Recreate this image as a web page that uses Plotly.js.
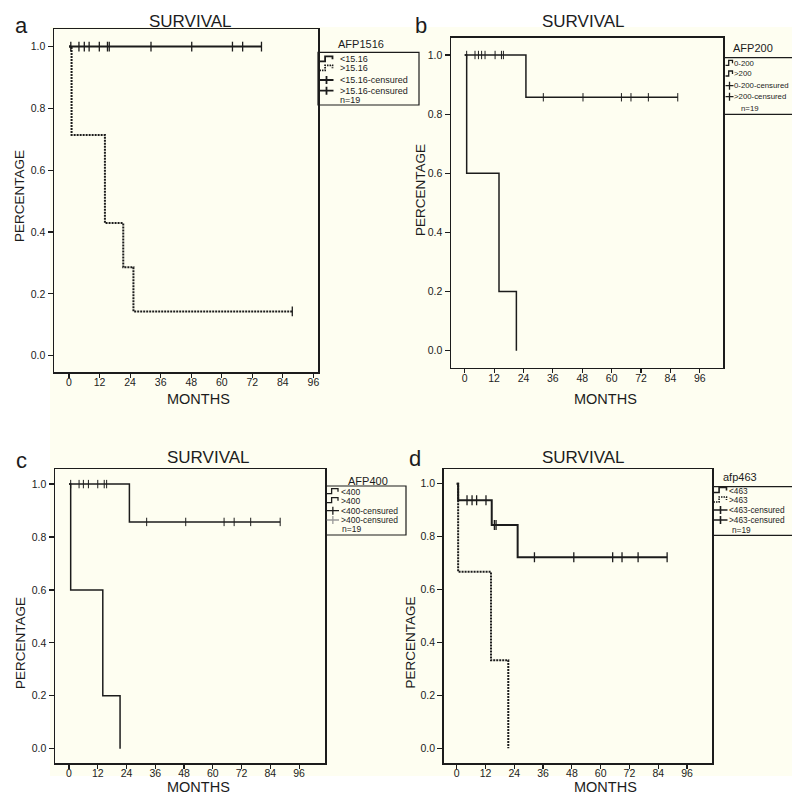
<!DOCTYPE html>
<html>
<head>
<meta charset="utf-8">
<script src="https://cdn.plot.ly/plotly-3.0.1.min.js"></script>
<style>html,body{margin:0;padding:0;background:#fff}#chart{width:792px;height:795px}</style>
</head>
<body>
<div id="chart"></div>
<script>
// ---------------- DATA ----------------
const monthTicks = [0, 12, 24, 36, 48, 60, 72, 84, 96];
const pctTicks = [0, 0.2, 0.4, 0.6, 0.8, 1.0];
const panelLetters = ['a', 'b', 'c', 'd'];
const panelTitle = 'SURVIVAL';
const xTitle = 'MONTHS';
const yTitle = 'PERCENTAGE';

// Panel a : AFP1516
const aLowTime = [0, 75.6];
const aLowSurv = [1, 1];
const aLowCensTime = [0.7, 3.9, 6.0, 7.9, 11.9, 15.1, 15.8, 32.2, 48.2, 64.2, 68.2, 75.6];
const aLowCensSurv = [1, 1, 1, 1, 1, 1, 1, 1, 1, 1, 1, 1];
const aHighTime = [0, 1.0, 14.1, 21.3, 25.3, 87.7];
const aHighSurv = [1, 0.714, 0.429, 0.286, 0.143, 0.143];
const aHighCensTime = [87.7];
const aHighCensSurv = [0.143];

// Panel b : AFP200
const bLowTime = [0, 25.0, 87.0];
const bLowSurv = [1, 0.857, 0.857];
const bLowCensTime = [0.8, 4.2, 5.6, 6.9, 8.3, 12.4, 15.0, 15.8, 32.1, 48.3, 64.0, 67.9, 75.0, 87.0];
const bLowCensSurv = [1, 1, 1, 1, 1, 1, 1, 1, 0.857, 0.857, 0.857, 0.857, 0.857, 0.857];
const bHighTime = [0, 0.8, 14.0, 21.1];
const bHighSurv = [1, 0.6, 0.2, 0];

// Panel c : AFP400
const cLowTime = [0, 25.2, 88.1];
const cLowSurv = [1, 0.857, 0.857];
const cLowCensTime = [0.7, 4.2, 6.0, 8.1, 12.0, 14.7, 15.7, 32.4, 48.7, 64.7, 68.9, 75.8, 88.1];
const cLowCensSurv = [1, 1, 1, 1, 1, 1, 1, 0.857, 0.857, 0.857, 0.857, 0.857, 0.857];
const cHighTime = [0, 0.7, 14.1, 21.3];
const cHighSurv = [1, 0.6, 0.2, 0];

// Panel d : afp463
const dLowTime = [0, 0.6, 14.6, 25.4, 87.7];
const dLowSurv = [1, 0.9375, 0.844, 0.722, 0.722];
const dLowCensTime = [4.3, 6.4, 8.3, 12.2, 15.7, 16.4, 32.4, 48.8, 65.0, 68.9, 75.6, 87.7];
const dLowCensSurv = [0.9375, 0.9375, 0.9375, 0.9375, 0.844, 0.844, 0.722, 0.722, 0.722, 0.722, 0.722, 0.722];
const dHighTime = [0, 0.6, 14.3, 21.5];
const dHighSurv = [1, 0.667, 0.333, 0];

// Legend texts
const legendTitles = ['AFP1516', 'AFP200', 'AFP400', 'afp463'];
const legendA = ['<15.16', '>15.16', '<15.16-censured', '>15.16-censured', 'n=19'];
const legendB = ['0-200', '>200', '0-200-censured', '>200-censured', 'n=19'];
const legendC = ['<400', '>400', '<400-censured', '>400-censured', 'n=19'];
const legendD = ['<463', '>463', '<463-censured', '>463-censured', 'n=19'];

// ---------------- LAYOUT ----------------
const W = 792, H = 795;
const P = x => x / W;
const Q = y => 1 - y / H;
const INK = '#1c1c1c';
const CREAM = '#fefef1';
const tickFont = {family: 'Liberation Sans Narrow, Arial Narrow, Liberation Sans, Arial, sans-serif', size: 10.5, color: INK};
const txtFam = 'Liberation Sans, Arial, Helvetica, sans-serif';

function stepTrace(t, s, ax, width, dash) {
  return {x: t, y: s, xaxis: 'x' + ax, yaxis: 'y' + ax, type: 'scatter', mode: 'lines',
    line: {shape: 'hv', color: INK, width: width, dash: dash || 'solid'}, showlegend: false, hoverinfo: 'skip'};
}
function censTrace(t, s, ax, size, lw) {
  return {x: t, y: s, xaxis: 'x' + ax, yaxis: 'y' + ax, type: 'scatter', mode: 'markers',
    marker: {symbol: 'line-ns', size: size, color: INK, line: {color: INK, width: lw}}, showlegend: false, hoverinfo: 'skip'};
}
const DOT = '2px,1px';
const traces = [
  stepTrace(aLowTime, aLowSurv, '', 2),
  stepTrace(aHighTime, aHighSurv, '', 2, DOT),
  censTrace(aLowCensTime, aLowCensSurv, '', 7, 1.3),
  censTrace(aHighCensTime, aHighCensSurv, '', 7, 1.3),
  stepTrace(bLowTime, bLowSurv, '2', 1.5),
  stepTrace(bHighTime, bHighSurv, '2', 1.5),
  censTrace(bLowCensTime, bLowCensSurv, '2', 6, 1),
  stepTrace(cLowTime, cLowSurv, '3', 1.5),
  stepTrace(cHighTime, cHighSurv, '3', 1.5),
  censTrace(cLowCensTime, cLowCensSurv, '3', 6, 1),
  stepTrace(dLowTime, dLowSurv, '4', 2),
  stepTrace(dHighTime, dHighSurv, '4', 2, DOT),
  censTrace(dLowCensTime, dLowCensSurv, '4', 7, 1.3)
];

// pixel boxes for the 4 plot areas [left, top, right, bottom] and axis ranges
const boxes = [
  {l: 54, t: 29, r: 318, b: 372, xr: [-5.9, 97.8], yr: [-0.053, 1.057]},
  {l: 451, t: 37.7, r: 723.3, b: 367.7, xr: [-5.6, 105.6], yr: [-0.0575, 1.0585]},
  {l: 55, t: 469, r: 325, b: 763.3, xr: [-5.84, 106.8], yr: [-0.055, 1.057]},
  {l: 443.7, t: 469, r: 712, b: 763.3, xr: [-5.42, 106.4], yr: [-0.0567, 1.0556]}
];

const layout = {
  width: W, height: H,
  margin: {l: 0, r: 0, t: 0, b: 0},
  paper_bgcolor: '#ffffff',
  plot_bgcolor: CREAM,
  showlegend: false,
  annotations: [],
  shapes: []
};

boxes.forEach((bx, i) => {
  const sfx = i === 0 ? '' : String(i + 1);
  layout['xaxis' + sfx] = {
    domain: [P(bx.l), P(bx.r)], anchor: 'y' + sfx, range: bx.xr,
    tickmode: 'array', tickvals: monthTicks, ticktext: monthTicks.map(String),
    ticks: 'outside', ticklen: 4, tickwidth: 1.2, tickcolor: INK, ticklabelstandoff: -4,
    showline: true, mirror: true, linecolor: INK, linewidth: 1.5,
    showgrid: false, zeroline: false, tickfont: tickFont, fixedrange: true
  };
  layout['yaxis' + sfx] = {
    domain: [Q(bx.b), Q(bx.t)], anchor: 'x' + sfx, range: bx.yr,
    tickmode: 'array', tickvals: pctTicks, ticktext: pctTicks.map(v => v.toFixed(1)),
    ticks: 'outside', ticklen: 5, tickwidth: 1.2, tickcolor: INK,
    showline: true, mirror: true, linecolor: INK, linewidth: 1.5,
    showgrid: false, zeroline: false, tickfont: tickFont, fixedrange: true
  };
});

// cream background area (below the plots)
layout.shapes.push({type: 'rect', xref: 'paper', yref: 'paper', layer: 'below',
  x0: P(50), x1: P(792), y0: Q(776), y1: Q(27), fillcolor: CREAM, line: {width: 0}});

function ann(text, x, y, size, extra) {
  layout.annotations.push(Object.assign({
    text: text, xref: 'paper', yref: 'paper', x: P(x), y: Q(y), showarrow: false,
    xanchor: 'center', yanchor: 'middle', font: {family: txtFam, size: size, color: INK}
  }, extra || {}));
}

// titles, axis titles, letters
const titlePos = [[190, 22], [583.7, 22], [208.5, 457.5], [583.7, 457.5]];
const monthsPos = [[198, 399], [605, 399], [198, 787], [605.5, 787]];
const pctPos = [[20, 196], [421, 190], [20, 643], [409.5, 643]];
const letterPos = [[21, 26], [421, 26], [21, 460], [415, 458]];
for (let i = 0; i < 4; i++) {
  ann(panelTitle, titlePos[i][0], titlePos[i][1], 17);
  ann(xTitle, monthsPos[i][0], monthsPos[i][1], 14.5, {borderpad: 0});
  ann(yTitle, pctPos[i][0], pctPos[i][1], 13.5, {textangle: -90});
  ann(panelLetters[i], letterPos[i][0], letterPos[i][1], 22);
}

// ---------- legends ----------
function pathPx(pts) {
  return pts.map((p, k) => (k === 0 ? 'M' : 'L') + P(p[0]).toFixed(5) + ',' + Q(p[1]).toFixed(5)).join(' ');
}
function addLegend(cfg, labels, title) {
  layout.shapes.push({type: 'rect', xref: 'paper', yref: 'paper',
    x0: P(cfg.box[0]), y0: Q(cfg.box[1]), x1: P(cfg.box[2]), y1: Q(cfg.box[3]),
    line: {color: INK, width: 1.2}, fillcolor: 'rgba(0,0,0,0)'});
  ann(title, cfg.title[0], cfg.title[1], 11);
  labels.forEach((lab, k) => {
    const y = cfg.ys[k];
    const x0 = cfg.g[0], x1 = cfg.g[1];
    const kind = cfg.kinds[k];
    if (kind === 'step' || kind === 'stepdot') {
      const xm = x0 + (x1 - x0) * 0.4;
      layout.shapes.push({type: 'path', xref: 'paper', yref: 'paper',
        path: pathPx([[x0, y + 2], [xm, y + 2], [xm, y - 3], [x1 - 1, y - 3], [x1 - 1, y]]),
        line: {color: INK, width: cfg.lw, dash: kind === 'stepdot' ? '1.5px,1px' : 'solid'}});
    } else if (kind === 'cross' || kind === 'crossgrey') {
      const col = kind === 'crossgrey' ? '#9a9a9a' : INK;
      const xm = (x0 + x1) / 2;
      layout.shapes.push({type: 'path', xref: 'paper', yref: 'paper',
        path: pathPx([[x0, y], [x1, y]]) + ' ' + pathPx([[xm, y - 4], [xm, y + 4]]),
        line: {color: col, width: cfg.lw}});
    }
    const tx = (kind === 'none' && cfg.nx) ? cfg.nx : cfg.tx;
    ann(lab, tx, y, cfg.fs, {xanchor: 'left', borderpad: 0});
  });
}
addLegend({box: [318, 52.3, 419, 105], title: [360.7, 44.5], tx: 339, nx: 339, ys: [59.3, 68.3, 80, 90.7, 100.3],
  g: [319.5, 333.5], lw: 1.8, fs: 9, kinds: ['step', 'stepdot', 'cross', 'cross', 'none']}, legendA, legendTitles[0]);
addLegend({box: [724.3, 57.7, 800, 114.3], title: [753.3, 48.5], tx: 733, nx: 740, ys: [63.3, 74, 85.7, 96.7, 108.7],
  g: [725.5, 733.5], lw: 1.3, fs: 7.8, kinds: ['step', 'step', 'cross', 'cross', 'none']}, legendB, legendTitles[1]);
addLegend({box: [325.7, 486, 406, 535], title: [367.7, 480.7], tx: 339.5, nx: 341, ys: [491.7, 500.7, 510.7, 520, 529.3],
  g: [326.7, 339], lw: 1.3, fs: 8.5, kinds: ['step', 'step', 'cross', 'crossgrey', 'none']}, legendC, legendTitles[2]);
addLegend({box: [712.7, 486.7, 800, 535.3], title: [740, 476.7], tx: 728, nx: 731, ys: [490.5, 500, 510, 520, 530],
  g: [713.5, 727.5], lw: 1.6, fs: 8.3, kinds: ['step', 'stepdot', 'cross', 'cross', 'none']}, legendD, legendTitles[3]);

Plotly.newPlot('chart', traces, layout, {displayModeBar: false, staticPlot: true});
</script>
</body>
</html>
